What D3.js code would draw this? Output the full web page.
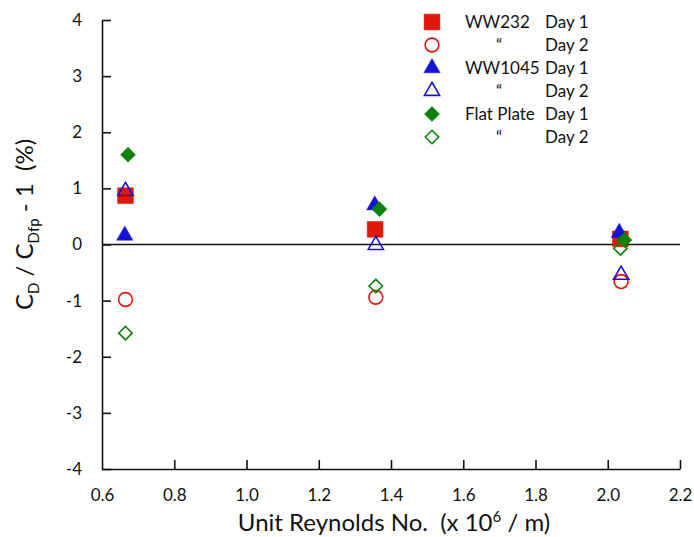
<!DOCTYPE html>
<html>
<head>
<meta charset="utf-8">
<script src="https://cdnjs.cloudflare.com/ajax/libs/d3/7.8.5/d3.min.js"></script>
<style>
  body { margin: 0; background: #fff; }
  svg text { font-family: Lato, "Open Sans", sans-serif; fill: #111; white-space: pre; }
</style>
</head>
<body>
<div id="chart"></div>
<script>
var margin = { top: 20, right: 14, bottom: 68, left: 102 },
    width = 694 - margin.left - margin.right,
    height = 537 - margin.top - margin.bottom;

// series data: unit Reynolds no. (x 1e6 / m) and CD/CDfp - 1 (%)
const ww232Day1 = [[0.665, 0.87], [1.356, 0.27], [2.035, 0.1]];
const ww232Day2 = [[0.665, -0.98], [1.358, -0.94], [2.037, -0.66]];
const ww1045Day1 = [[0.663, 0.16], [1.355, 0.7], [2.032, 0.21]];
const ww1045Day2 = [[0.665, 0.95], [1.358, -0.01], [2.037, -0.54]];
const flatDay1 = [[0.672, 1.6], [1.368, 0.63], [2.046, 0.08]];
const flatDay2 = [[0.665, -1.58], [1.358, -0.74], [2.035, -0.07]];

const xTicks = [0.6, 0.8, 1.0, 1.2, 1.4, 1.6, 1.8, 2.0, 2.2];
const yTicks = [-4, -3, -2, -1, 0, 1, 2, 3, 4];

const red = "#e0180c", blue = "#1414d4", green = "#0b800b";

const series = [
  { name: "WW232", day: "Day 1", data: ww232Day1, shape: d3.symbolSquare, size: 250, color: red, filled: true },
  { name: "\u201C", day: "Day 2", data: ww232Day2, shape: d3.symbolCircle, size: 150, color: red, filled: false },
  { name: "WW1045", day: "Day 1", data: ww1045Day1, shape: d3.symbolTriangle, size: 115, color: blue, filled: true },
  { name: "\u201C", day: "Day 2", data: ww1045Day2, shape: d3.symbolTriangle, size: 100, color: blue, filled: false },
  { name: "Flat Plate", day: "Day 1", data: flatDay1, shape: d3.symbolDiamond2, size: 145, color: green, filled: true },
  { name: "\u201C", day: "Day 2", data: flatDay2, shape: d3.symbolDiamond2, size: 115, color: green, filled: false }
];

var svg = d3.select("#chart").append("svg")
    .attr("width", 694)
    .attr("height", 537)
  .append("g")
    .attr("transform", "translate(" + margin.left + "," + margin.top + ")");

var x = d3.scaleLinear().domain([0.6, 2.2]).range([0, width]);
var y = d3.scaleLinear().domain([-4, 4]).range([height, 0]);

// x axis, ticks pointing up into the plot
var xAxis = svg.append("g")
    .attr("transform", "translate(0," + height + ")")
    .call(d3.axisBottom(x).tickValues(xTicks).tickFormat(d3.format(".1f")).tickSizeInner(-9).tickSizeOuter(0));
xAxis.selectAll("text").attr("y", 20).style("font-size", "17px");

var yAxis = svg.append("g")
    .call(d3.axisLeft(y).tickValues(yTicks).tickFormat(d => String(d)).tickSizeInner(-9).tickSizeOuter(0));
yAxis.selectAll("text").attr("x", -20).style("font-size", "17px");

svg.selectAll(".domain, .tick line").attr("stroke", "#111").attr("stroke-width", 1.6);
svg.selectAll(".tick").filter(d => d === 0.6).select("line").remove();

// zero line
svg.append("line")
    .attr("x1", 0).attr("x2", width)
    .attr("y1", y(0)).attr("y2", y(0))
    .attr("stroke", "#111").attr("stroke-width", 1.3);

// points
series.forEach(function (s) {
  svg.append("g").selectAll("path")
    .data(s.data)
    .enter().append("path")
    .attr("transform", d => "translate(" + x(d[0]) + "," + y(d[1]) + ")")
    .attr("d", d3.symbol().type(s.shape).size(s.size))
    .attr("fill", s.filled ? s.color : "none")
    .attr("stroke", s.color)
    .attr("stroke-width", s.filled ? 0.5 : 1.6);
});

// legend
var legend = svg.append("g").attr("transform", "translate(330,2)");
series.forEach(function (s, i) {
  var row = legend.append("g").attr("transform", "translate(0," + (i * 23) + ")");
  row.append("path")
    .attr("d", d3.symbol().type(s.shape).size(s.size))
    .attr("fill", s.filled ? s.color : "none")
    .attr("stroke", s.color)
    .attr("stroke-width", s.filled ? 0.5 : 1.6);
  row.append("text")
    .attr("x", s.name === "\u201C" ? 64 : 33)
    .attr("y", 6)
    .style("font-size", "17px")
    .text(s.name);
  row.append("text")
    .attr("x", 113)
    .attr("y", 6)
    .style("font-size", "17px")
    .text(s.day);
});

// axis titles
var xt = svg.append("text")
    .attr("x", width / 2 + 3)
    .attr("y", height + 62)
    .attr("text-anchor", "middle")
    .style("font-size", "24px");
xt.append("tspan").text("Unit Reynolds No.  (x 10");
xt.append("tspan").attr("dy", -9).style("font-size", "15px").text("6");
xt.append("tspan").attr("dy", 9).text(" / m)");

var yt = svg.append("text")
    .attr("transform", "translate(-69," + (y(0) - 20) + ") rotate(-90)")
    .attr("text-anchor", "middle")
    .style("font-size", "24px");
yt.append("tspan").text("C");
yt.append("tspan").attr("dy", 6).style("font-size", "15px").text("D");
yt.append("tspan").attr("dy", -6).text(" / C");
yt.append("tspan").attr("dy", 6).style("font-size", "15px").text("Dfp");
yt.append("tspan").attr("dy", -6).text(" - 1  (%)");
</script>
</body>
</html>
